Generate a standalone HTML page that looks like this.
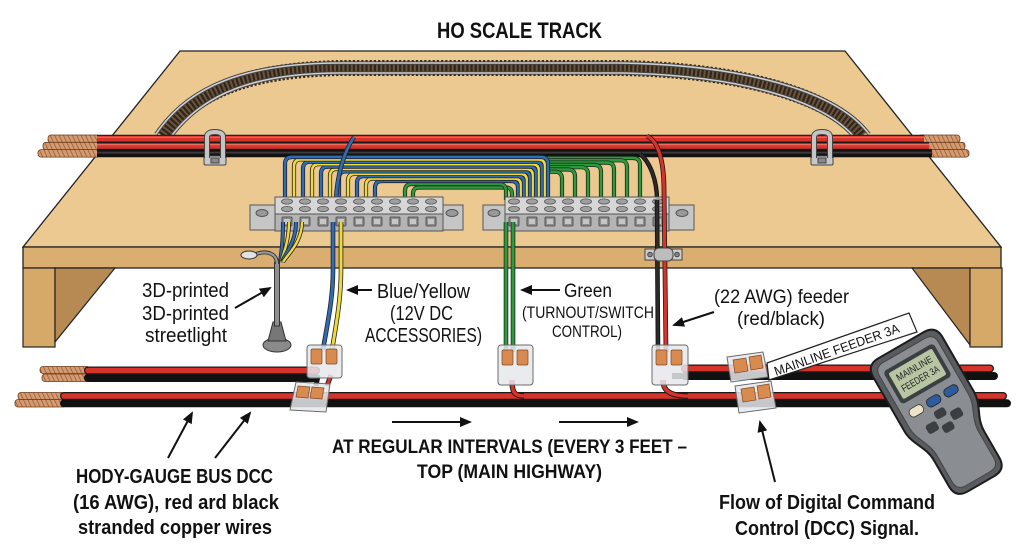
<!DOCTYPE html>
<html><head><meta charset="utf-8"><style>
html,body{margin:0;padding:0;background:#fff;}
svg{display:block;}
text{font-family:"Liberation Sans",Arial,sans-serif;fill:#111;}
.b{font-weight:bold;}
</style></head><body>
<svg width="1024" height="559" viewBox="0 0 1024 559" xmlns="http://www.w3.org/2000/svg">
<defs>
<pattern id="cu" width="4" height="4" patternUnits="userSpaceOnUse" patternTransform="rotate(-25)">
<rect width="4" height="4" fill="#d49a70"/><line x1="0" y1="0" x2="0" y2="4" stroke="#8a4f2c" stroke-width="1.3"/></pattern>
<marker id="ah" markerWidth="12" markerHeight="10" refX="10" refY="5" orient="auto" markerUnits="userSpaceOnUse">
<path d="M0 0 L12 5 L0 10 Z" fill="#111"/></marker>
<g id="col">
<ellipse cx="0" cy="201.5" rx="5.5" ry="2.6" fill="#a0a0a0" stroke="#555" stroke-width=".8"/>
<ellipse cx="0" cy="209" rx="5.5" ry="2.6" fill="#a0a0a0" stroke="#555" stroke-width=".8"/>
<rect x="-5" y="217" width="10" height="9" rx="1" fill="#8e8e8e" stroke="#444" stroke-width=".8"/>
<rect x="-3" y="219" width="6" height="5" fill="#c6c6c6"/>
</g>
<!-- band wires -->
<path id="w0" d="M285 200 V164 Q285 157 292 157 H541 Q548 157 548 164 V200"/>
<path id="w1" d="M294 200 V166.4 Q294 159.4 301 159.4 H538 Q545 159.4 545 166.4 V200"/>
<path id="w2" d="M303 200 V168.8 Q303 161.8 310 161.8 H535 Q542 161.8 542 168.8 V200"/>
<path id="w3" d="M312 200 V171.2 Q312 164.2 319 164.2 H532 Q539 164.2 539 171.2 V200"/>
<path id="w4" d="M321 200 V173.6 Q321 166.6 328 166.6 H529 Q536 166.6 536 173.6 V200"/>
<path id="w5" d="M330 200 V176 Q330 169 337 169 H526 Q533 169 533 176 V200"/>
<path id="w6" d="M339 200 V178.4 Q339 171.4 346 171.4 H523 Q530 171.4 530 178.4 V200"/>
<path id="w7" d="M348 200 V180.8 Q348 173.8 355 173.8 H520 Q527 173.8 527 180.8 V200"/>
<path id="w8" d="M357 200 V183.2 Q357 176.2 364 176.2 H517 Q524 176.2 524 183.2 V200"/>
<path id="w9" d="M366 200 V185.6 Q366 178.6 373 178.6 H514 Q521 178.6 521 185.6 V200"/>
<path id="w10" d="M375 200 V188 Q375 181 382 181 H511 Q518 181 518 188 V200"/>
<path id="g0" d="M430 158 H633 Q640 158 640 165 V200"/>
<path id="g1" d="M430 160.3 H620 Q627 160.3 627 167.3 V200"/>
<path id="g2" d="M430 162.6 H607 Q614 162.6 614 169.6 V200"/>
<path id="g3" d="M430 164.9 H594 Q601 164.9 601 171.9 V200"/>
<path id="g4" d="M430 167.2 H581 Q588 167.2 588 174.2 V200"/>
<path id="g5" d="M430 169.5 H568 Q575 169.5 575 176.5 V200"/>
<path id="g6" d="M430 171.8 H555 Q562 171.8 562 178.8 V200"/>
<path id="h0" d="M405 200 V191 Q405 184 412 184 H499 Q506 184 506 191 V200"/>
<path id="h1" d="M413 200 V194 Q413 187.5 419 187.5 H506 Q512 187.5 512 194 V200"/>
<path id="bb" d="M336 200 C337 175 344 152 354 137"/>
<path id="s0" d="M283 222 C283 240 282 250 280 262"/>
<path id="s1" d="M289 222 C289 240 284 252 281 262"/>
<path id="s2" d="M296 222 C296 242 286 252 282 262"/>
<path id="s3" d="M302 222 C302 242 288 254 283 262"/>
<path id="dB" d="M333 222 L333 270 C333 300 327 325 323 350"/>
<path id="dY" d="M341 222 L341 270 C341 300 336 325 332 350"/>
<path id="dG1" d="M506 222 L506 352"/>
<path id="dG2" d="M513 222 L513 352"/>
</defs>

<!-- board -->
<polygon points="180,51 845,51 1001,247 23,247" fill="#ebc991" stroke="#222" stroke-width="1.3"/>
<rect x="23" y="247" width="978" height="21" fill="#d9ae70" stroke="#222" stroke-width="1.3"/>
<rect x="23" y="268" width="32" height="79" fill="#d6a968" stroke="#222" stroke-width="1.2"/>
<polygon points="55,268 115,268 55,342" fill="#b68a52" stroke="#222" stroke-width="1.2"/>
<polygon points="912,268 970,268 970,345" fill="#b68a52" stroke="#222" stroke-width="1.2"/>
<rect x="970" y="268" width="32" height="79" fill="#d6a968" stroke="#222" stroke-width="1.2"/>

<!-- track -->
<path d="M163 136 C195 90 250 70 340 68 L620 68 C740 70 830 95 862 136" stroke="#6b543b" stroke-width="11" fill="none"/>
<path d="M163 136 C195 90 250 70 340 68 L620 68 C740 70 830 95 862 136" stroke="#2f261c" stroke-width="16" fill="none" stroke-dasharray="2.2 2"/>
<path d="M156 134 C188 86 246 63 340 63 L620 63 C742 65 836 90 869 134" stroke="#444" stroke-width="3.6" fill="none"/>
<path d="M156 134 C188 86 246 63 340 63 L620 63 C742 65 836 90 869 134" stroke="#d0d0d0" stroke-width="1.6" fill="none"/>
<path d="M170 138 C202 94 254 73 340 73 L620 73 C738 75 824 100 855 138" stroke="#444" stroke-width="3.6" fill="none"/>
<path d="M170 138 C202 94 254 73 340 73 L620 73 C738 75 824 100 855 138" stroke="#d0d0d0" stroke-width="1.6" fill="none"/>

<!-- top bus copper -->
<g stroke="#6a3a1a" stroke-width=".8" fill="url(#cu)">
<rect x="48" y="135" width="52" height="7.5" rx="3"/>
<rect x="43" y="142.3" width="57" height="7.5" rx="3"/>
<rect x="38" y="149.6" width="62" height="7.5" rx="3"/>
<rect x="918" y="135" width="42" height="7.5" rx="3"/>
<rect x="923" y="142.3" width="42" height="7.5" rx="3"/>
<rect x="927" y="149.6" width="42" height="7.5" rx="3"/>
</g>
<!-- top bus cables -->
<line x1="97" y1="153.3" x2="932" y2="153.3" stroke="#111" stroke-width="8"/>
<line x1="97" y1="152.6" x2="932" y2="152.6" stroke="#3a3a3a" stroke-width="2"/>
<line x1="97" y1="146" x2="929" y2="146" stroke="#1a1a1a" stroke-width="8"/>
<line x1="97" y1="146" x2="929" y2="146" stroke="#d6342b" stroke-width="5.6"/>
<line x1="97" y1="144.6" x2="929" y2="144.6" stroke="#ec6a5c" stroke-width="1.2"/>
<line x1="97" y1="138.7" x2="924" y2="138.7" stroke="#1a1a1a" stroke-width="8"/>
<line x1="97" y1="138.7" x2="924" y2="138.7" stroke="#d6342b" stroke-width="5.6"/>
<line x1="97" y1="137.3" x2="924" y2="137.3" stroke="#ec6a5c" stroke-width="1.2"/>
<!-- clamps -->
<g stroke="#444" stroke-width="1">
<rect x="204" y="156" width="22" height="9" rx="1.5" fill="#c8c8c8"/>
<path d="M207 158 V137 Q207 132 215 132 Q223 132 223 137 V158" fill="none" stroke="#444" stroke-width="6"/>
<path d="M207 158 V137 Q207 132 215 132 Q223 132 223 137 V158" fill="none" stroke="#c4c4c4" stroke-width="4"/>
<rect x="211" y="158" width="8" height="5" fill="#888"/>
<rect x="811" y="156" width="22" height="9" rx="1.5" fill="#c8c8c8"/>
<path d="M814 158 V137 Q814 132 822 132 Q830 132 830 137 V158" fill="none" stroke="#444" stroke-width="6"/>
<path d="M814 158 V137 Q814 132 822 132 Q830 132 830 137 V158" fill="none" stroke="#c4c4c4" stroke-width="4"/>
<rect x="818" y="158" width="8" height="5" fill="#888"/>
</g>

<!-- band wires: green behind -->
<g fill="none">
<use href="#g0" stroke="#1d2a1d" stroke-width="4.2"/><use href="#g0" stroke="#2e9a3e" stroke-width="2.6"/>
<use href="#g1" stroke="#1d2a1d" stroke-width="4.2"/><use href="#g1" stroke="#2e9a3e" stroke-width="2.6"/>
<use href="#g2" stroke="#1d2a1d" stroke-width="4.2"/><use href="#g2" stroke="#2e9a3e" stroke-width="2.6"/>
<use href="#g3" stroke="#1d2a1d" stroke-width="4.2"/><use href="#g3" stroke="#2e9a3e" stroke-width="2.6"/>
<use href="#g4" stroke="#1d2a1d" stroke-width="4.2"/><use href="#g4" stroke="#2e9a3e" stroke-width="2.6"/>
<use href="#g5" stroke="#1d2a1d" stroke-width="4.2"/><use href="#g5" stroke="#2e9a3e" stroke-width="2.6"/>
<use href="#g6" stroke="#1d2a1d" stroke-width="4.2"/><use href="#g6" stroke="#2e9a3e" stroke-width="2.6"/>
<use href="#h1" stroke="#1d2a1d" stroke-width="4.2"/><use href="#h1" stroke="#2e9a3e" stroke-width="2.6"/>
<use href="#h0" stroke="#1d2a1d" stroke-width="4.2"/><use href="#h0" stroke="#2e9a3e" stroke-width="2.6"/>
<use href="#w10" stroke="#222" stroke-width="4.2"/><use href="#w10" stroke="#2f6cb8" stroke-width="2.6"/>
<use href="#w9" stroke="#222" stroke-width="4.2"/><use href="#w9" stroke="#f0da3a" stroke-width="2.6"/>
<use href="#w8" stroke="#222" stroke-width="4.2"/><use href="#w8" stroke="#2f6cb8" stroke-width="2.6"/>
<use href="#w7" stroke="#222" stroke-width="4.2"/><use href="#w7" stroke="#f0da3a" stroke-width="2.6"/>
<use href="#w6" stroke="#222" stroke-width="4.2"/><use href="#w6" stroke="#2f6cb8" stroke-width="2.6"/>
<use href="#w5" stroke="#222" stroke-width="4.2"/><use href="#w5" stroke="#f0da3a" stroke-width="2.6"/>
<use href="#w4" stroke="#222" stroke-width="4.2"/><use href="#w4" stroke="#2f6cb8" stroke-width="2.6"/>
<use href="#w3" stroke="#222" stroke-width="4.2"/><use href="#w3" stroke="#f0da3a" stroke-width="2.6"/>
<use href="#w2" stroke="#222" stroke-width="4.2"/><use href="#w2" stroke="#2f6cb8" stroke-width="2.6"/>
<use href="#w1" stroke="#222" stroke-width="4.2"/><use href="#w1" stroke="#f0da3a" stroke-width="2.6"/>
<use href="#w0" stroke="#222" stroke-width="4.2"/><use href="#w0" stroke="#2f6cb8" stroke-width="2.6"/>
<use href="#bb" stroke="#222" stroke-width="4.4"/><use href="#bb" stroke="#2f6cb8" stroke-width="2.8"/>
<!-- feeder black upper -->
<path d="M640 154 C650 162 657 180 657 200" stroke="#111" stroke-width="4.4"/>
<path d="M640 154 C650 162 657 180 657 200" stroke="#2a2a2a" stroke-width="2.6"/>
</g>

<!-- terminal blocks -->
<g stroke="#555" stroke-width="1">
<rect x="250" y="205" width="27" height="25" fill="#c6c6c6"/>
<rect x="441" y="205" width="22" height="25" fill="#c6c6c6"/>
<rect x="275" y="197" width="168" height="17" fill="#d6d6d6"/>
<rect x="275" y="214" width="168" height="17" fill="#b4b4b4"/>
<ellipse cx="262" cy="213" rx="6" ry="3.5" fill="#999"/>
<ellipse cx="452" cy="213" rx="6" ry="3.5" fill="#999"/>
<rect x="483" y="205" width="24" height="25" fill="#c6c6c6"/>
<rect x="667" y="205" width="27" height="25" fill="#c6c6c6"/>
<rect x="505" y="197" width="164" height="17" fill="#d6d6d6"/>
<rect x="505" y="214" width="164" height="17" fill="#b4b4b4"/>
<ellipse cx="494" cy="213" rx="6" ry="3.5" fill="#999"/>
<ellipse cx="682" cy="213" rx="6" ry="3.5" fill="#999"/>
</g>
<use href="#col" x="287"/><use href="#col" x="305"/><use href="#col" x="323"/><use href="#col" x="341"/><use href="#col" x="359"/><use href="#col" x="377"/><use href="#col" x="395"/><use href="#col" x="413"/><use href="#col" x="431"/>
<use href="#col" x="514"/><use href="#col" x="532"/><use href="#col" x="550"/><use href="#col" x="568"/><use href="#col" x="586"/><use href="#col" x="604"/><use href="#col" x="622"/><use href="#col" x="640"/><use href="#col" x="658"/>

<!-- front wires -->
<g fill="none">
<use href="#s0" stroke="#222" stroke-width="4"/><use href="#s0" stroke="#2f6cb8" stroke-width="2.4"/>
<use href="#s1" stroke="#222" stroke-width="4"/><use href="#s1" stroke="#f0da3a" stroke-width="2.4"/>
<use href="#s2" stroke="#222" stroke-width="4"/><use href="#s2" stroke="#2f6cb8" stroke-width="2.4"/>
<use href="#s3" stroke="#222" stroke-width="4"/><use href="#s3" stroke="#f0da3a" stroke-width="2.4"/>
<use href="#dB" stroke="#222" stroke-width="4.6"/><use href="#dB" stroke="#2f6cb8" stroke-width="3"/>
<use href="#dY" stroke="#222" stroke-width="4.6"/><use href="#dY" stroke="#f0da3a" stroke-width="3"/>
<use href="#dG1" stroke="#1d2a1d" stroke-width="4.6"/><use href="#dG1" stroke="#2e9a3e" stroke-width="3"/>
<use href="#dG2" stroke="#1d2a1d" stroke-width="4.6"/><use href="#dG2" stroke="#2e9a3e" stroke-width="3"/>
<path d="M657 200 L658 352" stroke="#111" stroke-width="4.6"/>
<path d="M657 200 L658 352" stroke="#2a2a2a" stroke-width="3"/>
<path d="M647 136 C658 141 664 160 664 190 L666 352" stroke="#1a1a1a" stroke-width="4.8"/>
<path d="M647 136 C658 141 664 160 664 190 L666 352" stroke="#d6342b" stroke-width="3.2"/>
</g>
<!-- feeder clamp -->
<g stroke="#444" stroke-width="1">
<rect x="645" y="249" width="10" height="11" fill="#cfcfcf"/><circle cx="650" cy="254.5" r="2.3" fill="#888"/>
<rect x="672" y="249" width="10" height="11" fill="#cfcfcf"/><circle cx="677" cy="254.5" r="2.3" fill="#888"/>
<rect x="654" y="248" width="19" height="13" rx="5" fill="#bdbdbd"/>
</g>

<!-- streetlight -->
<g stroke="#333" stroke-width="1">
<ellipse cx="277" cy="345" rx="14" ry="7" fill="#8a8a8a"/>
<polygon points="273,322 281,322 286,341 268,341" fill="#777"/>
<rect x="274.5" y="262" width="5" height="64" fill="#8f8f8f"/>
<path d="M277 264 C277 254 268 250 256 254" fill="none" stroke="#333" stroke-width="4"/>
<path d="M277 264 C277 254 268 250 256 254" fill="none" stroke="#999" stroke-width="2.2"/>
<ellipse cx="249" cy="255" rx="8" ry="4" fill="#e2e2e2"/>
</g>

<!-- lower copper -->
<g stroke="#6a3a1a" stroke-width=".8" fill="url(#cu)">
<rect x="40" y="366.5" width="50" height="7" rx="3"/>
<rect x="42" y="374" width="48" height="7.5" rx="3"/>
<rect x="18" y="392.5" width="48" height="7" rx="3"/>
<rect x="15" y="399.5" width="51" height="7.5" rx="3"/>
</g>
<!-- lower cables -->
<g stroke-linecap="round">
<line x1="64" y1="403.3" x2="1007" y2="403.3" stroke="#111" stroke-width="8"/>
<line x1="64" y1="396" x2="1003" y2="396" stroke="#1a1a1a" stroke-width="8"/>
<line x1="64" y1="396" x2="1003" y2="396" stroke="#d6342b" stroke-width="5.6"/>
<line x1="88" y1="378" x2="316" y2="378" stroke="#111" stroke-width="8"/>
<line x1="88" y1="370.5" x2="316" y2="370.5" stroke="#1a1a1a" stroke-width="8"/>
<line x1="88" y1="370.5" x2="316" y2="370.5" stroke="#d6342b" stroke-width="5.6"/>
<line x1="685" y1="376" x2="994" y2="376" stroke="#111" stroke-width="8"/>
<line x1="685" y1="368.5" x2="990" y2="368.5" stroke="#1a1a1a" stroke-width="8"/>
<line x1="685" y1="368.5" x2="990" y2="368.5" stroke="#d6342b" stroke-width="5.6"/>
</g>
<g fill="none">
<path d="M318 375 L316 386" stroke="#111" stroke-width="5"/>
<path d="M331 375 L327 386" stroke="#1a1a1a" stroke-width="5"/><path d="M331 375 L327 386" stroke="#d6342b" stroke-width="3.2"/>
<path d="M512 380 C512 392 514 396 524 396" stroke="#1a1a1a" stroke-width="5.4"/><path d="M512 380 C512 392 514 396 524 396" stroke="#d6342b" stroke-width="3.6"/>
<path d="M663 380 C663 392 672 396 688 396" stroke="#1a1a1a" stroke-width="5.4"/><path d="M663 380 C663 392 672 396 688 396" stroke="#d6342b" stroke-width="3.6"/>
<path d="M672 376 L690 376" stroke="#111" stroke-width="6"/>
</g>

<!-- connectors -->
<g stroke="#6b6b6b" stroke-width="1">
<rect x="307" y="345" width="35" height="33" rx="3" fill="#e6e8ec" fill-opacity=".85"/>
<rect x="311" y="349" width="11" height="15" rx="1.5" fill="#d98b4f" stroke="#7a4a25" stroke-width=".7"/>
<rect x="326" y="349" width="11" height="15" rx="1.5" fill="#d98b4f" stroke="#7a4a25" stroke-width=".7"/>
<polygon points="296,382 330,384 326,412 290,410" fill="#e6e8ec" fill-opacity=".85"/>
<polygon points="298,386 310,387 308,398 296,397" fill="#d98b4f" stroke="#7a4a25" stroke-width=".7"/>
<polygon points="312,387 324,388 322,399 310,398" fill="#d98b4f" stroke="#7a4a25" stroke-width=".7"/>
<rect x="498" y="345" width="35" height="40" rx="3" fill="#e6e8ec" fill-opacity=".85"/>
<rect x="502" y="350" width="11" height="15" rx="1.5" fill="#d98b4f" stroke="#7a4a25" stroke-width=".7"/>
<rect x="517" y="350" width="11" height="15" rx="1.5" fill="#d98b4f" stroke="#7a4a25" stroke-width=".7"/>
<rect x="652" y="345" width="36" height="40" rx="3" fill="#e6e8ec" fill-opacity=".85"/>
<rect x="656" y="350" width="11" height="15" rx="1.5" fill="#d98b4f" stroke="#7a4a25" stroke-width=".7"/>
<rect x="671" y="350" width="11" height="15" rx="1.5" fill="#d98b4f" stroke="#7a4a25" stroke-width=".7"/>
<polygon points="727,357 763,352 768,377 731,382" fill="#e6e8ec" fill-opacity=".85"/>
<polygon points="733,360 746,358 748,371 735,373" fill="#d98b4f" stroke="#7a4a25" stroke-width=".7"/>
<polygon points="749,357 761,355 763,368 751,370" fill="#d98b4f" stroke="#7a4a25" stroke-width=".7"/>
<polygon points="735,386 771,381 776,408 739,413" fill="#e6e8ec" fill-opacity=".85"/>
<polygon points="741,389 754,387 756,400 743,402" fill="#d98b4f" stroke="#7a4a25" stroke-width=".7"/>
<polygon points="757,386 769,384 771,397 759,399" fill="#d98b4f" stroke="#7a4a25" stroke-width=".7"/>
</g>

<!-- tag -->
<polygon points="767,363 909,313 917,332 769,380" fill="#fff" stroke="#222" stroke-width="1.2"/>
<text transform="translate(776,376) rotate(-19.5)" font-size="13" textLength="132" lengthAdjust="spacingAndGlyphs">MAINLINE FEEDER 3A</text>

<!-- handheld -->
<g transform="translate(943,418) rotate(-30)">
<path d="M-40 -70 Q-40 -84 -26 -84 L26 -84 Q40 -84 40 -70 L40 -8 C40 8 29 16 29 32 L29 62 Q29 76 15 76 L-15 76 Q-29 76 -29 62 L-29 32 C-29 16 -40 8 -40 -8 Z" fill="#585c60" stroke="#1d1d1d" stroke-width="2"/>
<path d="M-34 -68 Q-34 -78 -24 -78 L24 -78 Q34 -78 34 -68 L34 -8 C34 6 24 14 24 30 L24 60 Q24 70 14 70 L-14 70 Q-24 70 -24 60 L-24 30 C-24 14 -34 6 -34 -8 Z" fill="#8a8e92" stroke="#444" stroke-width="1"/>
<rect x="-29" y="-70" width="58" height="38" rx="4" fill="#3c3f42"/>
<rect x="-25" y="-66" width="50" height="30" rx="2" fill="#b8c5a2"/>
<text x="0" y="-54" font-size="10" text-anchor="middle" textLength="40" lengthAdjust="spacingAndGlyphs" style="fill:#222">MAINLINE</text>
<text x="0" y="-42" font-size="10" text-anchor="middle" textLength="42" lengthAdjust="spacingAndGlyphs" style="fill:#222">FEEDER 3A</text>
<rect x="-27" y="-24" width="15" height="9" rx="4" fill="#ede4c8" stroke="#333" stroke-width=".8"/>
<rect x="-7" y="-24" width="15" height="9" rx="4" fill="#2f5a9c" stroke="#222" stroke-width=".8"/>
<rect x="13" y="-24" width="15" height="9" rx="4" fill="#2f5a9c" stroke="#222" stroke-width=".8"/>
<rect x="-6" y="-10" width="12" height="9" rx="3" fill="#3c3f42"/>
<rect x="-20" y="-2" width="12" height="10" rx="3" fill="#3c3f42"/>
<rect x="8" y="-2" width="12" height="10" rx="3" fill="#3c3f42"/>
<rect x="-6" y="6" width="12" height="9" rx="3" fill="#3c3f42"/>
</g>

<!-- arrows -->
<g stroke="#111" stroke-width="2" fill="none" marker-end="url(#ah)">
<line x1="235" y1="308" x2="270" y2="288"/>
<line x1="372" y1="290" x2="348" y2="290"/>
<line x1="560" y1="290" x2="522" y2="290"/>
<line x1="714" y1="312" x2="674" y2="325"/>
<line x1="168" y1="458" x2="192" y2="413"/>
<line x1="215" y1="458" x2="250" y2="413"/>
<line x1="392" y1="422" x2="470" y2="422"/>
<line x1="559" y1="422" x2="637" y2="422"/>
<line x1="775" y1="482" x2="760" y2="422"/>
</g>

<!-- text -->
<text class="b" x="437" y="38" font-size="22" textLength="165" lengthAdjust="spacingAndGlyphs">HO SCALE TRACK</text>
<text x="142" y="297" font-size="20" textLength="87" lengthAdjust="spacingAndGlyphs">3D-printed</text>
<text x="142" y="320" font-size="20" textLength="87" lengthAdjust="spacingAndGlyphs">3D-printed</text>
<text x="145" y="342" font-size="20" textLength="82" lengthAdjust="spacingAndGlyphs">streetlight</text>
<text x="377" y="298" font-size="20" textLength="93" lengthAdjust="spacingAndGlyphs">Blue/Yellow</text>
<text x="390" y="320" font-size="20" textLength="63" lengthAdjust="spacingAndGlyphs">(12V DC</text>
<text x="365" y="342" font-size="20" textLength="117" lengthAdjust="spacingAndGlyphs">ACCESSORIES)</text>
<text x="564" y="297" font-size="19" textLength="48" lengthAdjust="spacingAndGlyphs">Green</text>
<text x="522" y="318" font-size="17" textLength="132" lengthAdjust="spacingAndGlyphs">(TURNOUT/SWITCH</text>
<text x="552" y="337" font-size="17" textLength="70" lengthAdjust="spacingAndGlyphs">CONTROL)</text>
<text x="714" y="303" font-size="19" textLength="135" lengthAdjust="spacingAndGlyphs">(22 AWG) feeder</text>
<text x="737" y="325" font-size="19" textLength="88" lengthAdjust="spacingAndGlyphs">(red/black)</text>
<text class="b" x="76" y="483" font-size="20" textLength="197" lengthAdjust="spacingAndGlyphs">HODY-GAUGE BUS DCC</text>
<text class="b" x="73" y="509" font-size="20" textLength="206" lengthAdjust="spacingAndGlyphs">(16 AWG), red ard black</text>
<text class="b" x="78" y="534" font-size="20" textLength="194" lengthAdjust="spacingAndGlyphs">stranded copper wires</text>
<text class="b" x="332" y="453" font-size="19" textLength="355" lengthAdjust="spacingAndGlyphs">AT REGULAR INTERVALS (EVERY 3 FEET –</text>
<text class="b" x="417" y="478" font-size="19" textLength="185" lengthAdjust="spacingAndGlyphs">TOP (MAIN HIGHWAY)</text>
<text class="b" x="719" y="509" font-size="20" textLength="216" lengthAdjust="spacingAndGlyphs">Flow of Digital Command</text>
<text class="b" x="735" y="535" font-size="20" textLength="184" lengthAdjust="spacingAndGlyphs">Control (DCC) Signal.</text>
</svg>
</body></html>
